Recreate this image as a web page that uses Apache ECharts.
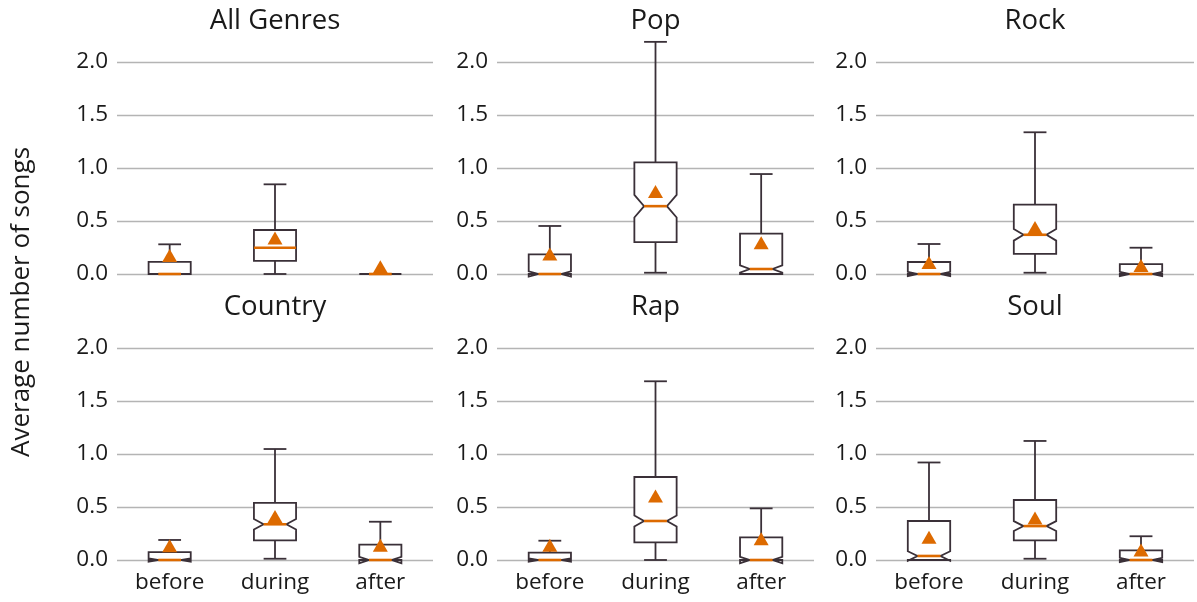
<!DOCTYPE html>
<html>
<head>
<meta charset="utf-8">
<script src="https://cdn.jsdelivr.net/npm/echarts@6/dist/echarts.min.js"></script>
<style>
html,body{margin:0;padding:0;background:#fff;}
#chart{width:1197px;height:602px;}
</style>
</head>
<body>
<div id="chart"></div>
<script>
// ---- data ----
const categories = ['before', 'during', 'after'];
const panelTitles = ['All Genres', 'Pop', 'Rock', 'Country', 'Rap', 'Soul'];
const yTicks = [0, 0.5, 1.0, 1.5, 2.0];

// box stats per category: [lower whisker, q1, median, q3, upper whisker]
const allGenresBox = [[0, 0, 0, 0.115, 0.28], [0, 0.123, 0.248, 0.415, 0.846], [0, 0, 0, 0, 0]];
const allGenresMean = [0.165, 0.33, 0.06];
const allGenresNotch = [0, 0, 0];

const popBox = [[0, 0, 0, 0.186, 0.453], [0.012, 0.30, 0.64, 1.054, 2.19], [0, 0, 0.047, 0.38, 0.943]];
const popMean = [0.18, 0.77, 0.285];
const popNotch = [0.025, 0.107, 0.035];

const rockBox = [[0, 0, 0, 0.113, 0.283], [0.012, 0.189, 0.37, 0.654, 1.337], [0, 0, 0, 0.094, 0.248]];
const rockMean = [0.10, 0.43, 0.07];
const rockNotch = [0.02, 0.055, 0.02];

const countryBox = [[0, 0, 0, 0.075, 0.189], [0.012, 0.186, 0.337, 0.538, 1.047], [0, 0, 0, 0.145, 0.361]];
const countryMean = [0.125, 0.40, 0.13];
const countryNotch = [0.015, 0.05, 0.03];

const rapBox = [[0, 0, 0, 0.069, 0.182], [0, 0.167, 0.368, 0.783, 1.686], [0, 0, 0, 0.214, 0.487]];
const rapMean = [0.13, 0.594, 0.19];
const rapNotch = [0.015, 0.052, 0.03];

const soulBox = [[0, 0, 0.038, 0.368, 0.92], [0.012, 0.186, 0.32, 0.566, 1.123], [0, 0, 0, 0.091, 0.224]];
const soulMean = [0.205, 0.387, 0.085];
const soulNotch = [0.045, 0.047, 0.02];

const panelBoxes = [allGenresBox, popBox, rockBox, countryBox, rapBox, soulBox];
const panelMeans = [allGenresMean, popMean, rockMean, countryMean, rapMean, soulMean];
const panelNotches = [allGenresNotch, popNotch, rockNotch, countryNotch, rapNotch, soulNotch];

// ---- style / layout ----
const FONT = 'Open Sans';
const DARK = '#3a3038';
const ORANGE = '#dd6a00';
const TEXT = '#1a1a1a';
const gridLefts = [117, 497, 876];
const gridWidths = [316, 317, 318];
const gridTops = [62, 348];
const gridHeight = 212;

function renderItem(params, api) {
  const xi = api.value(0);
  const band = api.size([1, 0])[0];
  const bw = band * 0.4, half = bw / 2;
  const cx = api.coord([xi, 0])[0];
  const Y = v => api.coord([xi, v])[1];
  const wlo = api.value(1), q1 = api.value(2), med = api.value(3), q3 = api.value(4), whi = api.value(5);
  const nh = api.value(6), mean = api.value(7);
  const capHalf = bw * 0.27;
  const lineStyle = {stroke: DARK, lineWidth: 1.8, fill: null};
  const ch = [];
  ch.push({type: 'line', shape: {x1: cx, y1: Y(q3), x2: cx, y2: Y(whi)}, style: lineStyle});
  ch.push({type: 'line', shape: {x1: cx, y1: Y(q1), x2: cx, y2: Y(wlo)}, style: lineStyle});
  ch.push({type: 'line', shape: {x1: cx - capHalf, y1: Y(whi), x2: cx + capHalf, y2: Y(whi)}, style: lineStyle});
  ch.push({type: 'line', shape: {x1: cx - capHalf, y1: Y(wlo), x2: cx + capHalf, y2: Y(wlo)}, style: lineStyle});
  const L = cx - half, R = cx + half;
  let pts, mL = L, mR = R;
  if (nh > 0) {
    const inset = bw * 0.23;
    const nlo = med - nh, nhi = med + nh;
    pts = [[L, Y(q1)], [L, Y(nlo)], [L + inset, Y(med)], [L, Y(nhi)], [L, Y(q3)],
           [R, Y(q3)], [R, Y(nhi)], [R - inset, Y(med)], [R, Y(nlo)], [R, Y(q1)]];
    mL = L + inset; mR = R - inset;
  } else {
    pts = [[L, Y(q1)], [L, Y(q3)], [R, Y(q3)], [R, Y(q1)]];
    if (q1 === med) { mL = L + bw * 0.23; mR = R - bw * 0.23; }
  }
  ch.push({type: 'polygon', shape: {points: pts}, style: {fill: '#ffffff', stroke: DARK, lineWidth: 1.8}});
  ch.push({type: 'line', shape: {x1: mL, y1: Y(med), x2: mR, y2: Y(med)}, style: {stroke: ORANGE, lineWidth: 2.6}});
  const my = Y(mean);
  ch.push({type: 'polygon', shape: {points: [[cx, my - 7.5], [cx + 7.5, my + 5.5], [cx - 7.5, my + 5.5]]},
           style: {fill: ORANGE, stroke: null}});
  return {type: 'group', children: ch};
}

const grids = [], xAxes = [], yAxes = [], series = [], titles = [];
for (let p = 0; p < 6; p++) {
  const row = Math.floor(p / 3), col = p % 3;
  grids.push({left: gridLefts[col], width: gridWidths[col], top: gridTops[row], height: gridHeight, containLabel: false});
  xAxes.push({
    type: 'category', gridIndex: p, data: categories,
    axisLine: {show: false}, axisTick: {show: false},
    axisLabel: {show: row === 1, color: TEXT, fontFamily: FONT, fontSize: 22.5, margin: 11},
    splitLine: {show: false}
  });
  yAxes.push({
    type: 'value', gridIndex: p, min: 0, max: 2, interval: 0.5,
    axisLine: {show: false}, axisTick: {show: false},
    axisLabel: {color: TEXT, fontFamily: FONT, fontSize: 22.5, margin: 9, formatter: v => v.toFixed(1)},
    splitLine: {show: true, lineStyle: {color: '#b4b4b4', width: 1.3}}
  });
  const data = categories.map((c, i) => [i, ...panelBoxes[p][i], panelNotches[p][i], panelMeans[p][i]]);
  series.push({
    type: 'custom', xAxisIndex: p, yAxisIndex: p, renderItem: renderItem, clip: false,
    encode: {x: 0, y: [1, 2, 3, 4, 5]}, data: data, silent: true, z: 5
  });
  titles.push({
    text: panelTitles[p],
    left: gridLefts[col] + gridWidths[col] / 2 - 5, top: row === 0 ? 2 : 288, textAlign: 'center',
    textStyle: {fontFamily: FONT, fontSize: 27.5, fontWeight: 'normal', color: TEXT}
  });
}

const chart = echarts.init(document.getElementById('chart'), null, {renderer: 'canvas'});
chart.setOption({
  animation: false,
  backgroundColor: '#ffffff',
  title: titles,
  grid: grids, xAxis: xAxes, yAxis: yAxes, series: series,
  graphic: [{
    type: 'text', rotation: Math.PI / 2,
    x: 22, y: 302,
    style: {text: 'Average number of songs', fontFamily: FONT, fontSize: 26, fill: TEXT, textAlign: 'center', textVerticalAlign: 'middle'}
  }]
});
</script>
</body>
</html>
